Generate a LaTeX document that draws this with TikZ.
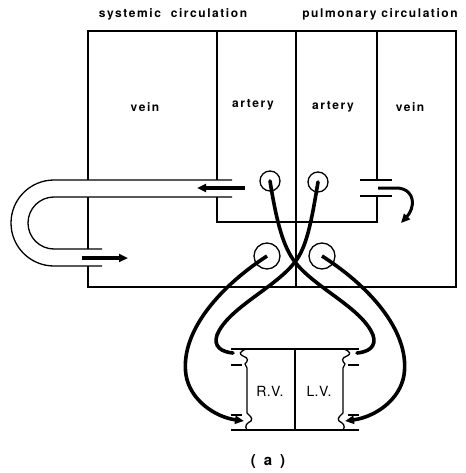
\documentclass[tikz,border=0pt]{standalone}
\usepackage{fontspec}
\setsansfont{TeX Gyre Heros}
\usetikzlibrary{arrows.meta}
\begin{document}
\begin{tikzpicture}[x=1pt,y=-1pt,
  thin line/.style={line width=1.3pt},
  flow/.style={line width=3.6pt},
  flowtip/.style={-{Triangle[length=9pt,width=8pt]}},
  lbl/.style={font=\sffamily\bfseries\fontsize{12}{14}\selectfont\addfontfeature{LetterSpace=13}, inner sep=0pt},
  vlbl/.style={font=\sffamily\fontsize{14}{16}\selectfont\addfontfeature{LetterSpace=3}, inner sep=0pt},
  port/.style={circle, draw, line width=1.3pt, inner sep=0pt}]
\useasboundingbox (0,0) rectangle (465,473);
% labels
\node[lbl] (sys) at (173,14) {systemic\hspace{5pt} circulation};
\node[lbl] (pul) at (380,14) {pulmonary circulation};
\node[lbl] (v1) at (145,107) {vein};
\node[lbl] (a1) at (253,105) {artery};
\node[lbl] (a2) at (333,107) {artery};
\node[lbl] (v2) at (410,107) {vein};
\node[vlbl] (rv) at (270,391) {R.V.};
\node[vlbl] (lv) at (319,391) {L.V.};
\node[vlbl, font=\sffamily\bfseries\fontsize{15}{17}\selectfont] (cap) at (268,462) {(\hspace{8pt}a\hspace{8pt})};
% outer box
\draw[thin line] (88,180) -- (88,31) -- (456,31) -- (456,287) -- (88,287) -- (88,266);
\draw[thin line] (88,197) -- (88,249);
% dividers
\draw[thin line] (217,31) -- (217,180);
\draw[thin line] (217,197) -- (217,222) -- (377,222) -- (377,196);
\draw[thin line] (377,31) -- (377,180);
\draw[thin line] (296,31) -- (296,287);
% left U tube
\draw[thin line] (232,180) -- (54,180) arc[start angle=-90,end angle=-270,radius=43] -- (102,266);
\draw[thin line] (232,197) -- (54,197) arc[start angle=-90,end angle=-270,radius=26] -- (102,249);
% right short tube
\draw[thin line] (360,180) -- (392,180);
\draw[thin line] (360,196) -- (392,196);
% tube arrows
\coordinate (t1s) at (245,188);
\coordinate (t1e) at (197,188);
\coordinate (t2s) at (82,258);
\coordinate (t2e) at (128,258);
\coordinate (t3s) at (378,188);
\coordinate (t3e) at (401,223);
\draw[line width=3.2pt, flowtip] (t1s) -- (t1e);
\draw[line width=3.2pt, flowtip] (t2s) -- (t2e);
\draw[line width=3pt, flowtip] (t3s) -- (398,188) .. controls (416,190) and (415,208) .. (t3e);
% ports
\node[port, minimum size=20pt] (c1) at (270,181) {};
\node[port, minimum size=20pt] (c2) at (318,182) {};
\node[port, minimum size=26pt] (c3) at (267,256) {};
\node[port, minimum size=26pt] (c4) at (322,256) {};
% ventricles
\draw[thin line] (231,349) -- (359,349);
\draw[thin line] (231,430) -- (359,430);
\draw[thin line] (295,349) -- (295,430);
\draw[thin line] (231,365) -- (242,365) (348,365) -- (359,365);
\draw[thin line] (231,415) -- (242,415) (348,415) -- (359,415);
\draw[thin line] (246,349) .. controls (239,352) and (239,354) .. (243,356)
   .. controls (249,358) and (248,361) .. (245,364) -- (247,368) -- (247,413)
   .. controls (250,416) and (253,418) .. (251,421)
   .. controls (247,423) and (244,426) .. (247,430);
\draw[thin line] (344,349) .. controls (351,352) and (351,354) .. (347,356)
   .. controls (341,358) and (342,361) .. (345,364) -- (343,368) -- (343,413)
   .. controls (340,416) and (337,418) .. (339,421)
   .. controls (343,423) and (346,426) .. (343,430);
% crossing flows
\coordinate (inR) at (233,353);
\coordinate (inL) at (357,353);
\coordinate (outR) at (244,421);
\coordinate (outL) at (345,421);
\draw[flow, line cap=round] (c1.center) .. controls (277,225) and (284,248) .. (295,262)
   .. controls (315,288) and (362,308) .. (373,335) .. controls (377,347) and (368,352) .. (inL);
\draw[flow, line cap=round] (c2.center) .. controls (311,225) and (306,248) .. (295,262)
   .. controls (275,288) and (228,308) .. (217,335) .. controls (213,347) and (222,352) .. (inR);
\draw[flow, flowtip] (c3.center) .. controls (215,290) and (180,335) .. (186,375)
   .. controls (190,400) and (215,417) .. (outR);
\draw[flow, flowtip] (c4.center) .. controls (375,290) and (410,335) .. (404,375)
   .. controls (400,400) and (375,417) .. (outL);
\end{tikzpicture}
\end{document}
